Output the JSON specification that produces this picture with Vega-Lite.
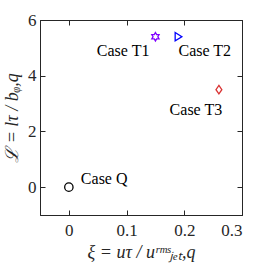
{
  "$schema": "https://vega.github.io/schema/vega-lite/v6.json",
  "autosize": {"type": "none"},
  "padding": {"left": 40, "top": 20, "right": 26, "bottom": 53},
  "width": 202,
  "height": 195,
  "background": "white",
  "config": {
    "view": {"stroke": "#262626", "strokeWidth": 1},
    "axis": {
      "domainColor": "#262626",
      "tickColor": "#262626",
      "tickSize": -5,
      "labelFont": "Liberation Serif",
      "labelFontSize": 17,
      "labelColor": "#262626",
      "titleFont": "Liberation Serif",
      "titleFontSize": 18,
      "titleFontWeight": "normal",
      "titleFontStyle": "italic",
      "titleColor": "#262626",
      "grid": false
    },
    "text": {"font": "Liberation Serif", "fontSize": 16, "color": "black"}
  },
  "data": {
    "values": [
      {"case": "Q", "xi": 0, "L": 0, "label": "Case Q"},
      {"case": "T1", "xi": 0.15, "L": 5.4, "label": "Case T1"},
      {"case": "T2", "xi": 0.19, "L": 5.4, "label": "Case T2"},
      {"case": "T3", "xi": 0.26, "L": 3.5, "label": "Case T3"}
    ]
  },
  "resolve": {"axis": {"x": "independent", "y": "independent"}},
  "layer": [
    {
      "mark": {"type": "point", "filled": false, "strokeWidth": 1.3, "opacity": 1},
      "encoding": {
        "x": {"field": "xi", "type": "quantitative", "scale": {"domain": [-0.05, 0.3], "nice": false, "zero": false},
          "axis": {"orient": "bottom", "values": [0, 0.1, 0.2, 0.3], "format": "~g", "labelPadding": 12, "title": "ξ = uτ / uʳᵐˢⱼₑₜ,q", "titlePadding": 5}},
        "y": {"field": "L", "type": "quantitative", "scale": {"domain": [-1, 6], "nice": false, "zero": false},
          "axis": {"orient": "left", "values": [0, 2, 4, 6], "labelPadding": 9, "title": "ℒ = lτ / bᵩ,q", "titlePadding": 6}},
        "shape": {"field": "case", "type": "nominal", "legend": null,
          "scale": {"domain": ["Q", "T1", "T2", "T3"],
            "range": ["circle",
              "M0,-1L0.2887,-0.5L0.866,-0.5L0.577,0L0.866,0.5L0.2887,0.5L0,1L-0.2887,0.5L-0.866,0.5L-0.577,0L-0.866,-0.5L-0.2887,-0.5Z",
              "M-0.8,-1L0.8,0L-0.8,1Z",
              "M0,-1L0.7,0L0,1L-0.7,0Z"]}},
        "color": {"field": "case", "type": "nominal", "legend": null,
          "scale": {"domain": ["Q", "T1", "T2", "T3"], "range": ["#000000", "#8000ff", "#0000ff", "#d93333"]}},
        "size": {"value": 70}
      }
    },
    {
      "mark": {"type": "point", "opacity": 0},
      "encoding": {
        "x": {"field": "xi", "type": "quantitative",
          "axis": {"orient": "top", "values": [0, 0.1, 0.2, 0.3], "labels": false, "title": null}},
        "y": {"field": "L", "type": "quantitative",
          "axis": {"orient": "right", "values": [0, 2, 4, 6], "labels": false, "title": null}}
      }
    },
    {
      "transform": [{"filter": "datum.case === 'Q'"}],
      "mark": {"type": "text", "align": "left", "baseline": "middle", "dx": 12, "dy": -8},
      "encoding": {"x": {"field": "xi", "type": "quantitative", "axis": null}, "y": {"field": "L", "type": "quantitative", "axis": null}, "text": {"field": "label"}}
    },
    {
      "transform": [{"filter": "datum.case === 'T1'"}],
      "mark": {"type": "text", "align": "right", "baseline": "middle", "dx": -6, "dy": 14},
      "encoding": {"x": {"field": "xi", "type": "quantitative", "axis": null}, "y": {"field": "L", "type": "quantitative", "axis": null}, "text": {"field": "label"}}
    },
    {
      "transform": [{"filter": "datum.case === 'T2'"}],
      "mark": {"type": "text", "align": "left", "baseline": "middle", "dx": 0, "dy": 14},
      "encoding": {"x": {"field": "xi", "type": "quantitative", "axis": null}, "y": {"field": "L", "type": "quantitative", "axis": null}, "text": {"field": "label"}}
    },
    {
      "transform": [{"filter": "datum.case === 'T3'"}],
      "mark": {"type": "text", "align": "center", "baseline": "middle", "dx": -23, "dy": 20},
      "encoding": {"x": {"field": "xi", "type": "quantitative", "axis": null}, "y": {"field": "L", "type": "quantitative", "axis": null}, "text": {"field": "label"}}
    }
  ]
}
